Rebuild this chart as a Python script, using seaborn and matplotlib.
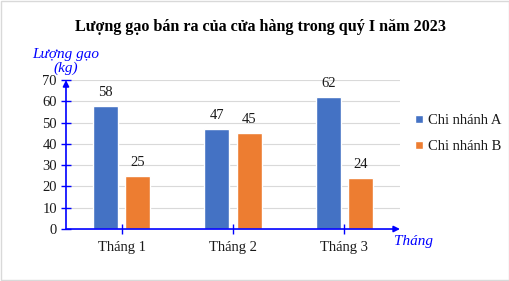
import matplotlib
matplotlib.use("Agg")
import matplotlib.pyplot as plt
import seaborn as sns
import pandas as pd

months = ["Tháng 1", "Tháng 2", "Tháng 3"]
series = ["Chi nhánh A", "Chi nhánh B"]
values_a = [58, 47, 62]
values_b = [25, 45, 24]
yticks = [0, 10, 20, 30, 40, 50, 60, 70]

df = pd.DataFrame({
    "month": months * 2,
    "branch": [series[0]] * 3 + [series[1]] * 3,
    "value": values_a + values_b,
})

sns.set_theme(style="white")
plt.rcParams["font.family"] = ["Liberation Serif", "DejaVu Serif"]

BLUE_AX = "#0000FF"
TXT = "#1a1a1a"
fig = plt.figure(figsize=(5.10, 2.81), dpi=100)
ax = fig.add_axes([0.1294, 0.185, 0.6549, 0.530])

sns.barplot(data=df, x="month", y="value", hue="branch",
            palette=["#4472C4", "#ED7D31"], saturation=1, width=0.58, gap=0.22,
            ax=ax, legend=True)

for cont in ax.containers:
    ax.bar_label(cont, padding=5, fontsize=10.5, color=TXT)

ax.set_xlim(-0.5, 2.5)
ax.set_ylim(0, 70)
ax.set_yticks(yticks)
ax.set_yticklabels([str(v) for v in yticks], fontsize=10.5, color=TXT)
ax.tick_params(axis="x", labelsize=10.5, labelcolor=TXT, direction="inout",
               length=7, color=BLUE_AX, width=1, pad=5, bottom=True)
ax.tick_params(axis="y", direction="inout", length=7, color=BLUE_AX,
               width=1, pad=3, left=True)
ax.set_xlabel("")
ax.set_ylabel("")
for s in ax.spines.values():
    s.set_visible(False)
ax.yaxis.grid(True, color="#D9D9D9", linewidth=0.8)
ax.set_axisbelow(True)

# axes with arrows
ax.annotate("", xy=(1.0, 0), xytext=(0, 0), xycoords="axes fraction",
            arrowprops=dict(arrowstyle="-|>", color=BLUE_AX, lw=1.2,
                            mutation_scale=9, shrinkA=0, shrinkB=0))
ax.annotate("", xy=(0, 1.0), xytext=(0, 0), xycoords="axes fraction",
            arrowprops=dict(arrowstyle="-|>", color=BLUE_AX, lw=1.2,
                            mutation_scale=9, shrinkA=0, shrinkB=0))

fig.text(0.51, 0.905, "Lượng gạo bán ra của cửa hàng trong quý I năm 2023",
         ha="center", va="center", fontsize=11.6, fontweight="bold", color="black")
fig.text(0.129, 0.78, "Lượng gạo\n(kg)", ha="center", va="center",
         fontsize=11, style="italic", color=BLUE_AX, linespacing=1.05)
fig.text(0.772, 0.142, "Tháng", ha="left", va="center",
         fontsize=11, style="italic", color=BLUE_AX)

leg = ax.legend(loc="center left", bbox_to_anchor=(1.005, 0.64), frameon=False,
                fontsize=10.5, handlelength=0.55, handleheight=0.55,
                handletextpad=0.35, labelspacing=0.9)
for t in leg.get_texts():
    t.set_color(TXT)

fig.patches.append(plt.Rectangle((0.001, 0.002), 0.997, 0.995, transform=fig.transFigure,
                                 fill=False, edgecolor="#D9D9D9", linewidth=1))
fig.savefig("out.png", dpi=100)
